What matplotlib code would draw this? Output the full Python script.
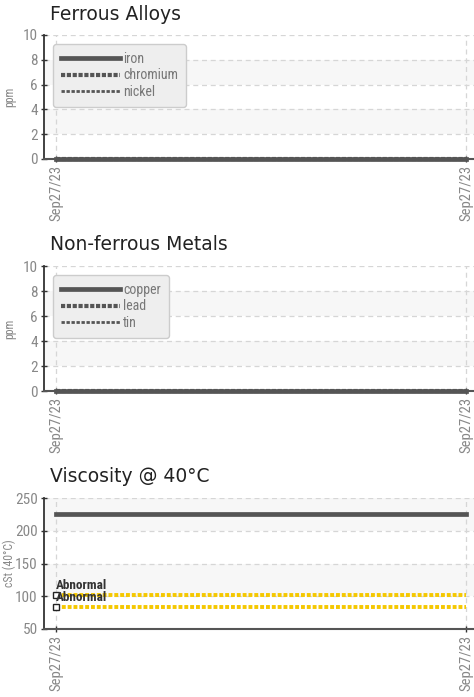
import matplotlib
matplotlib.use("Agg")
import matplotlib.pyplot as plt
import numpy as np

# ---- data ----
dates = ["Sep27/23", "Sep27/23"]
iron = [0, 0]
chromium = [0, 0]
nickel = [0, 0]
copper = [0, 0]
lead = [0, 0]
tin = [0, 0]
viscosity = [226, 226]
visc_upper = [102, 102]
visc_lower = [84, 84]
limit_labels = ["Abnormal", "Abnormal"]

ppm_ticks = [0, 2, 4, 6, 8, 10]
visc_ticks = [50, 100, 150, 200, 250]

COND = ['Liberation Sans Narrow', 'Roboto Condensed', 'DejaVu Sans']
TICK_C = '#888888'
LINE_C = '#555555'

fig = plt.figure(figsize=(4.74, 6.97), dpi=100)

W = 474.0
H = 697.0

def make_ax(top_px, bot_px):
    left = 44 / W
    width = (474 - 44) / W
    bottom = 1 - bot_px / H
    height = (bot_px - top_px) / H
    return fig.add_axes([left, bottom, width, height])

x = np.arange(len(dates))

def style(ax, ticks, ylabel):
    lo, hi = ticks[0], ticks[-1]
    ax.set_ylim(lo, hi)
    ax.set_xlim(-12 / 410, 1 + 8 / 410)
    step = ticks[1] - ticks[0]
    for i, t in enumerate(ticks[:-1]):
        if i % 2 == 1:
            ax.axhspan(t, t + step, color='#f7f7f7', zorder=0, lw=0)
    ax.set_yticks(ticks)
    ax.set_xticks(x)
    ax.set_xticklabels(dates, rotation=90, family=COND, fontsize=10.5, color=TICK_C)
    for lab in ax.get_yticklabels():
        lab.set_family(COND)
        lab.set_fontsize(11)
        lab.set_color(TICK_C)
    ax.grid(True, linestyle=(0, (4, 3)), color='#d6d6d6', lw=0.9, zorder=0.5)
    ax.set_axisbelow(True)
    for s in ['top', 'right']:
        ax.spines[s].set_visible(False)
    ax.spines['left'].set_color('#333333')
    ax.spines['bottom'].set_color('#555555')
    ax.spines['left'].set_linewidth(1.3)
    ax.spines['bottom'].set_linewidth(1.5)
    ax.tick_params(axis='both', direction='inout', length=5, width=1, color='#333333', pad=2)
    ax.set_ylabel(ylabel, family=COND, fontsize=8.5, color=TICK_C)
    ax.yaxis.set_label_coords((16 - 44) / 430, 0.5)

def metal_panel(top, bot, title, title_y, series, names):
    ax = make_ax(top, bot)
    style(ax, ppm_ticks, 'ppm')
    styles = [dict(ls='-', lw=3.4), dict(ls=(0, (1.0, 0.4)), lw=3.0), dict(ls=(0, (1.2, 0.6)), lw=2.0)]
    handles = []
    for s, n, st in zip(series, names, styles):
        h, = ax.plot(x, s, color=LINE_C, label=n, zorder=3, clip_on=False, **st)
        handles.append(h)
    leg = ax.legend(handles=handles, loc='upper left', bbox_to_anchor=(9 / 430, 1 - 9 / 124),
                    borderaxespad=0, fancybox=True, framealpha=1, facecolor='#eeeeee',
                    edgecolor='#cccccc', handlelength=4.3, handletextpad=0.2,
                    labelspacing=0.2, borderpad=0.55, prop={'family': COND, 'size': 10})
    for t in leg.get_texts():
        t.set_color('#777777')
    fig.text(50 / W, 1 - title_y / H, title, fontsize=13.5, color='#222222', va='center', ha='left')
    return ax

metal_panel(35, 159, "Ferrous Alloys", 14, [iron, chromium, nickel], ["iron", "chromium", "nickel"])
metal_panel(266, 391, "Non-ferrous Metals", 244, [copper, lead, tin], ["copper", "lead", "tin"])

ax3 = make_ax(498, 629)
style(ax3, visc_ticks, 'cSt (40°C)')
ax3.plot(x, viscosity, color=LINE_C, lw=3.4, zorder=3)
for lim, lab in zip([visc_upper, visc_lower], limit_labels):
    ax3.plot(x, lim, color='#f5c800', lw=2.8, ls=(0, (1.0, 0.5)), zorder=3)
    ax3.plot(x[0], lim[0], marker='s', ms=4.5, mfc='white', mec='#222222', mew=1, zorder=4, clip_on=False)
    ax3.annotate(lab, (x[0], lim[0]), xytext=(0, 2), textcoords='offset points',
                 fontsize=9.5, color='#333333', family=COND, fontweight='bold', va='bottom', ha='left', zorder=5)
fig.text(50 / W, 1 - 476 / H, "Viscosity @ 40°C", fontsize=13.5, color='#222222', va='center', ha='left')

fig.savefig("out.png", dpi=100)
